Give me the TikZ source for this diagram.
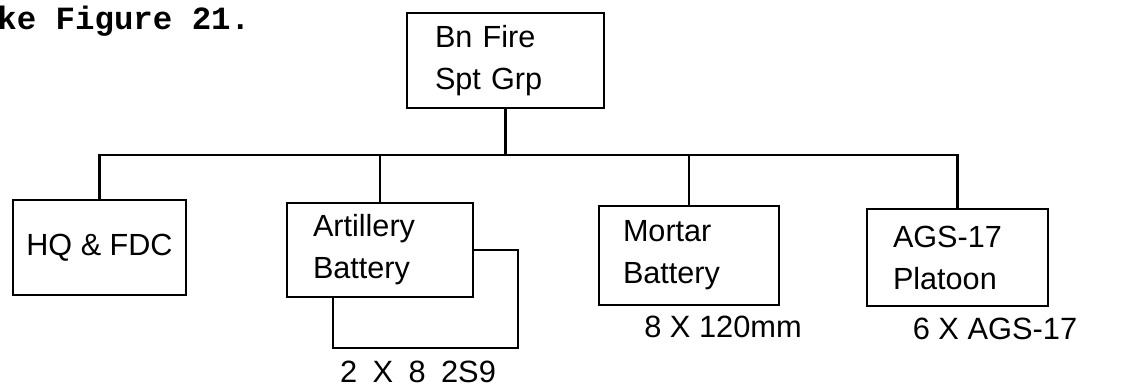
\documentclass[tikz,border=0pt]{standalone}
\usepackage{fontspec}
\setmainfont{Liberation Sans}
\newfontfamily\typefont{Liberation Mono}
\usepackage{tikz}
\tikzstyle{unit} = [draw, line width=1.1pt, align=left, inner ysep=0pt, font=\fontsize{15.3}{21}\selectfont]
\tikzstyle{line} = [draw, line width=1.1pt]
\tikzset{
  lbl/.style ={inner sep=0pt, font=\fontsize{15.4}{18}\selectfont}
}

\begin{document}
\begin{tikzpicture}[x=0.5pt,y=-0.5pt]
  \useasboundingbox (0,0) rectangle (1135,387);
  \node[anchor=west, inner sep=0pt, font=\typefont\bfseries\fontsize{16.2}{18}\selectfont] (fig) at (-3,21) {ke Figure 21.};

  \node[unit, text width=70.5pt, inner xsep=14pt, minimum height=47.5pt] (grp) at (505.5,60.5) {Bn Fire\\Spt Grp};
  \node[unit, minimum width=86.5pt, minimum height=47.5pt] (hq) at (99.5,247.5) {HQ \& FDC};
  \node[unit, text width=67pt, inner xsep=13pt, minimum height=47pt] (arty) at (380,250) {Artillery\\Battery};
  \node[unit, text width=66pt, inner xsep=12pt, minimum height=49.5pt] (mortar) at (689,255.5) {Mortar\\Battery};
  \node[unit, text width=64.5pt, inner xsep=13pt, minimum height=48.5pt] (ags) at (957.5,257.5) {AGS-17\\Platoon};

  \node[lbl, below of=arty, node distance=61pt, xshift=19pt] (guns) {2\hspace{0.5em}X\hspace{0.5em}8\hspace{0.5em}2S9};
  \node[lbl, below of=mortar, node distance=35.75pt, xshift=17pt] (tubes) {8 X 120mm};
  \node[lbl, below of=ags, node distance=35.75pt, xshift=18.75pt] (launchers) {6 X AGS-17};

  \coordinate (bus) at (grp.south |- 0,155);
  \coordinate (brk) at (518,348);

  \begin{scope}[every path/.style=line]
    \path (grp) -- (bus);
    \path (bus) -| (hq);
    \path (bus) -| (arty);
    \path (bus) -| (mortar);
    \path (bus) -| (ags);
    \path (arty.east) -| (brk) -| ([xshift=-23.5pt]arty.south);
  \end{scope}

\end{tikzpicture}
\end{document}
